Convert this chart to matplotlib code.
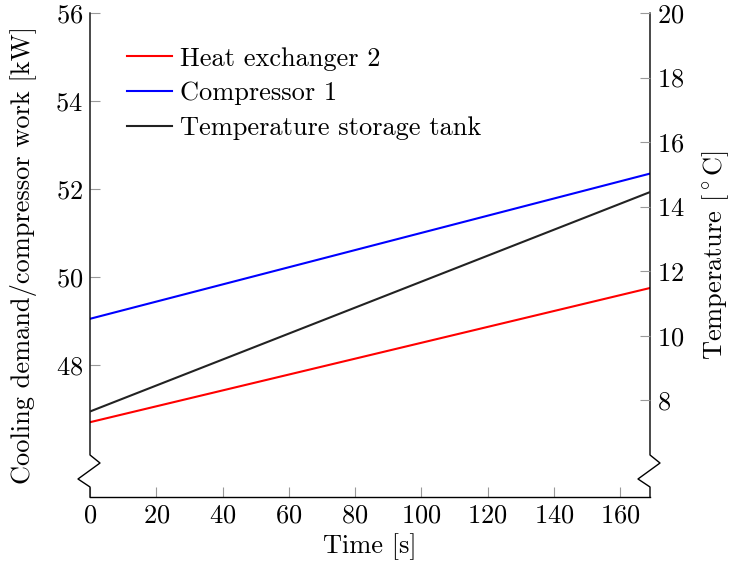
import matplotlib
matplotlib.use("Agg")
import matplotlib.pyplot as plt

plt.rcParams["font.family"] = "cmr10"
plt.rcParams["mathtext.fontset"] = "cm"
plt.rcParams["axes.formatter.use_mathtext"] = True

# data (linear trends, start/end values)
time_s = [0, 169]
heat_exchanger_2 = [46.70, 49.75]
compressor_1 = [49.05, 52.35]
storage_tank_temp = [7.65, 14.45]

x_ticks = list(range(0, 161, 20))
left_ticks = [48, 50, 52, 54, 56]
right_ticks = [8, 10, 12, 14, 16, 18, 20]

FS = 19

fig = plt.figure(figsize=(7.32, 5.74), dpi=100)
ax = fig.add_axes([90 / 732, 1 - 497 / 574, 560 / 732, 484 / 574])
ax2 = ax.twinx()

(l1,) = ax.plot(time_s, heat_exchanger_2, color="red", lw=1.5, label="Heat exchanger 2")
(l2,) = ax.plot(time_s, compressor_1, color="blue", lw=1.5, label="Compressor 1")
(l3,) = ax2.plot(time_s, storage_tank_temp, color="#222222", lw=1.5,
                 label="Temperature storage tank")

ax.set_xlim(0, 169)
ax.set_ylim(45, 56)
ax2.set_ylim(5, 20)
ax.set_xticks(x_ticks)
ax.set_yticks(left_ticks)
ax2.set_yticks(right_ticks)

for a in (ax, ax2):
    a.tick_params(direction="in", length=7, width=0.8, color="#999999",
                  labelsize=FS, pad=5)
    for s in ("top", "left", "right"):
        a.spines[s].set_visible(False)
ax2.spines["bottom"].set_visible(False)
ax.spines["bottom"].set_linewidth(1.0)

# y axis lines with break marks
dx1 = 10 / 560
dx2 = -12 / 560
ys = [1.0, 0.0868, 0.0702, 0.0372, 0.0207, 0.0]
for x0 in (0.0, 1.0):
    xs = [x0, x0, x0 + dx1, x0 + dx2, x0, x0]
    ax.plot(xs, ys, color="black", lw=1.0, transform=ax.transAxes,
            clip_on=False, zorder=5)

ax.set_xlabel("Time [s]", fontsize=FS, labelpad=4)
ax.set_ylabel("Cooling demand/compressor work [kW]", fontsize=FS, labelpad=13)
ax2.set_ylabel(r"Temperature [$^\circ$C]", fontsize=FS, labelpad=11)

ax.legend(handles=[l1, l2, l3], loc="upper left", frameon=False, fontsize=FS,
          bbox_to_anchor=(0.066, 0.93), borderaxespad=0, borderpad=0,
          handlelength=1.7, handletextpad=0.3, labelspacing=0.42)

fig.savefig("out.png", dpi=100)
